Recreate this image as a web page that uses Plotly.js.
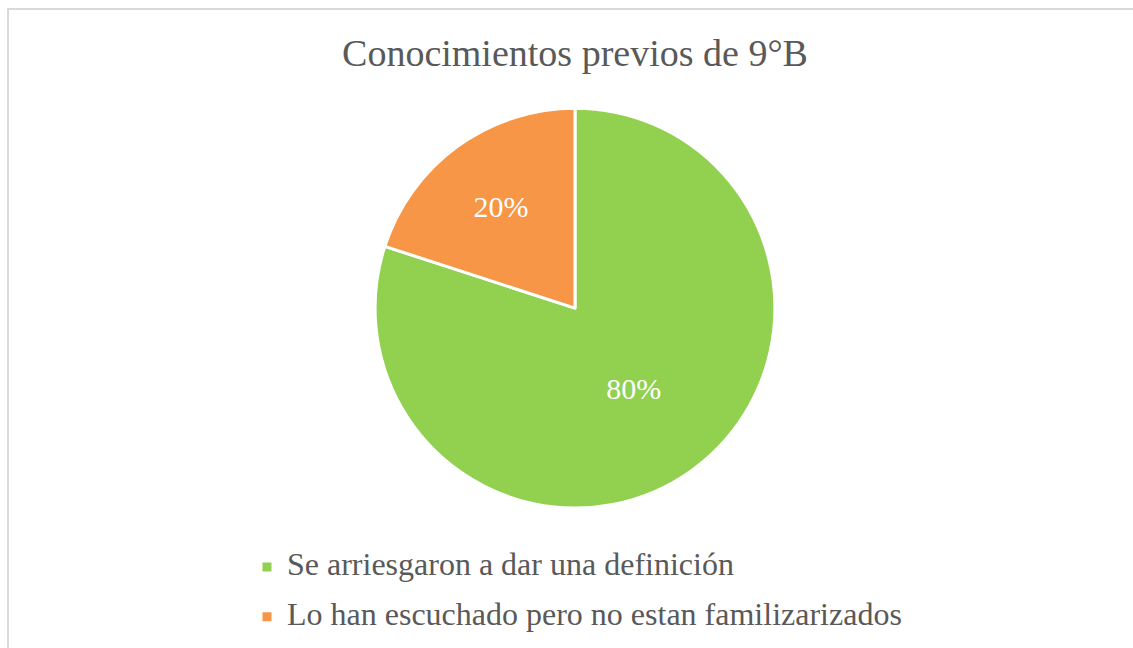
<!DOCTYPE html>
<html>
<head>
<meta charset="utf-8">
<script src="https://cdn.plot.ly/plotly-3.0.1.min.js"></script>
<style>
  html, body { margin: 0; padding: 0; background: #ffffff; }
  #frame { position: absolute; left: 7px; top: 8px; width: 1140px; height: 660px; border: 2px solid #d9d9d9; pointer-events: none; box-sizing: border-box; }
</style>
</head>
<body>
<div id="chart" style="position:absolute;left:0;top:0;width:1133px;height:648px"></div>
<div id="frame"></div>
<script>
const categories = ["Se arriesgaron a dar una definición", "Lo han escuchado pero no estan familizarizados"];
const values = [80, 20];
const colors = ["#92D050", "#F79646"];
const chartTitle = "Conocimientos previos de 9°B";

const SERIF = "Liberation Serif";

const trace = {
  type: "pie",
  labels: categories.map(c => "<span style='font-size:32px;baseline-shift:6px'>" + c + "</span>"),
  values: values,
  sort: false,
  direction: "clockwise",
  rotation: 0,
  marker: { colors: colors, line: { color: "#ffffff", width: 3 } },
  textinfo: "percent",
  textposition: "inside",
  insidetextorientation: "horizontal",
  textfont: { family: SERIF, size: 30, color: "#ffffff" },
  domain: { x: [0.015, 1.0], y: [0.216, 0.833] },
  hoverinfo: "percent"
};

const layout = {
  width: 1133,
  height: 648,
  margin: { l: 0, r: 0, t: 0, b: 0 },
  paper_bgcolor: "#ffffff",
  title: {
    text: chartTitle,
    font: { family: SERIF, size: 38, color: "#595959" },
    x: 0.5075, xanchor: "center",
    y: 1 - 53/648, yanchor: "middle"
  },
  showlegend: true,
  legend: {
    orientation: "v",
    x: 0.218, xanchor: "left",
    y: 1 - 537/648, yanchor: "top",
    font: { family: SERIF, size: 36, color: "#595959" },
    traceorder: "normal"
  }
};

Plotly.newPlot("chart", [trace], layout, { staticPlot: true });
</script>
</body>
</html>
